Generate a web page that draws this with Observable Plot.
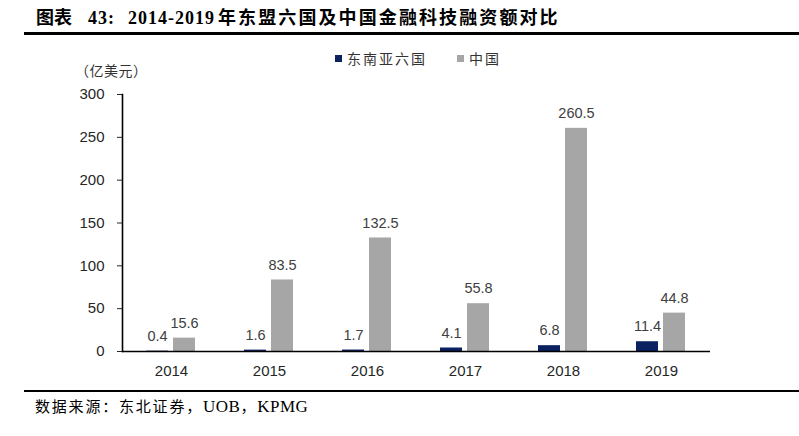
<!DOCTYPE html>
<html>
<head>
<meta charset="utf-8">
<script src="https://cdn.jsdelivr.net/npm/d3@7"></script>
<script src="https://cdn.jsdelivr.net/npm/@observablehq/plot@0.6"></script>
<style>
  html, body { margin: 0; padding: 0; background: #fff; }
  #page { position: relative; width: 799px; height: 436px; overflow: hidden; }
  #title { position: absolute; left: 0; top: 5px; width: 799px; height: 26px; font-family: "Liberation Serif", "Noto Sans CJK SC", serif; font-weight: bold; font-size: 18px; color: #000; white-space: pre; line-height: 26px; }
  #title span { position: absolute; top: 0; }
  #t1 { left: 36px; letter-spacing: 0px; }
  #t2 { left: 88px; letter-spacing: 1px; }
  #t3 { left: 128px; letter-spacing: 1px; }
  #t4 { left: 218px; letter-spacing: 2.1px; }
  #rule1 { position: absolute; left: 24px; top: 32px; width: 775px; height: 2.5px; background: #000; }
  #rule2 { position: absolute; left: 24px; top: 390px; width: 775px; height: 2px; background: #000; }
  #source { position: absolute; left: 35px; top: 396px; font-family: "Liberation Serif", "Noto Sans CJK SC", serif; font-size: 15px; letter-spacing: 1.8px; color: #000; white-space: nowrap; line-height: 22px; }
  #source .lat { font-size: 17px; letter-spacing: 0.5px; }
  #unit { position: absolute; left: 75px; top: 60px; font-family: "Noto Sans CJK SC", sans-serif; font-size: 14px; letter-spacing: 0.5px; color: #333; white-space: nowrap; line-height: 20px; }
  #legend { position: absolute; left: 335px; top: 48px; font-family: "Noto Sans CJK SC", sans-serif; font-size: 14px; letter-spacing: 2px; color: #333; white-space: nowrap; display: flex; align-items: center; line-height: 20px; }
  .sw { display: inline-block; width: 7px; height: 7px; margin-right: 5px; }
  .item { display: inline-flex; align-items: center; margin-right: 30px; }
  #chart { position: absolute; left: 0; top: 40px; }
</style>
</head>
<body>
<div id="page">
  <div id="title"><span id="t1">图表</span><span id="t2">43:</span><span id="t3">2014-2019</span><span id="t4">年东盟六国及中国金融科技融资额对比</span></div>
  <div id="rule1"></div>
  <div id="unit">（亿美元）</div>
  <div id="legend"></div>
  <div id="chart"></div>
  <div id="rule2"></div>
  <div id="source">数据来源：东北证券，<span class="lat">UOB</span>，<span class="lat">KPMG</span></div>
</div>
<script>
const years = ["2014", "2015", "2016", "2017", "2018", "2019"];
const series = ["东南亚六国", "中国"];
const seaValues = [0.4, 1.6, 1.7, 4.1, 6.8, 11.4];
const chinaValues = [15.6, 83.5, 132.5, 55.8, 260.5, 44.8];
const yTicks = [0, 50, 100, 150, 200, 250, 300];
const colors = ["#0b2160", "#a6a6a6"];

const rows = [];
years.forEach((y, i) => {
  rows.push({year: y, series: series[0], value: seaValues[i]});
  rows.push({year: y, series: series[1], value: chinaValues[i]});
});

const legend = document.getElementById("legend");
series.forEach((s, i) => {
  const it = document.createElement("span");
  it.className = "item";
  it.innerHTML = `<span class="sw" style="background:${colors[i]}"></span>${s}`;
  legend.appendChild(it);
});

const chart = Plot.plot({
  width: 799,
  height: 345,
  marginTop: 54,
  marginBottom: 34,
  marginLeft: 120,
  marginRight: 87,
  style: {fontFamily: "'Liberation Sans', Arial, sans-serif", fontSize: "15px", color: "#262626", background: "transparent"},
  fx: {domain: years, padding: 0, label: null, axis: "bottom", tickSize: 0, tickPadding: 14},
  x: {domain: series, axis: null, paddingInner: 0.18, paddingOuter: 0.886},
  y: {domain: [0, 300], ticks: yTicks, tickSize: 5, tickPadding: 13, label: null},
  color: {domain: series, range: colors},
  marks: [
    Plot.barY(rows, {fx: "year", x: "series", y: "value", fill: "series"}),
    Plot.frame({anchor: "left", facetAnchor: "left", stroke: "#000", strokeWidth: 1.6}),
    Plot.ruleY([0], {stroke: "#000", strokeWidth: 1.6}),
    Plot.text(rows, {fx: "year", x: "series", y: "value", text: d => d.value.toFixed(1), dy: -15, fill: "#404040", fontSize: 14.5})
  ]
});
document.getElementById("chart").appendChild(chart);
</script>
</body>
</html>
